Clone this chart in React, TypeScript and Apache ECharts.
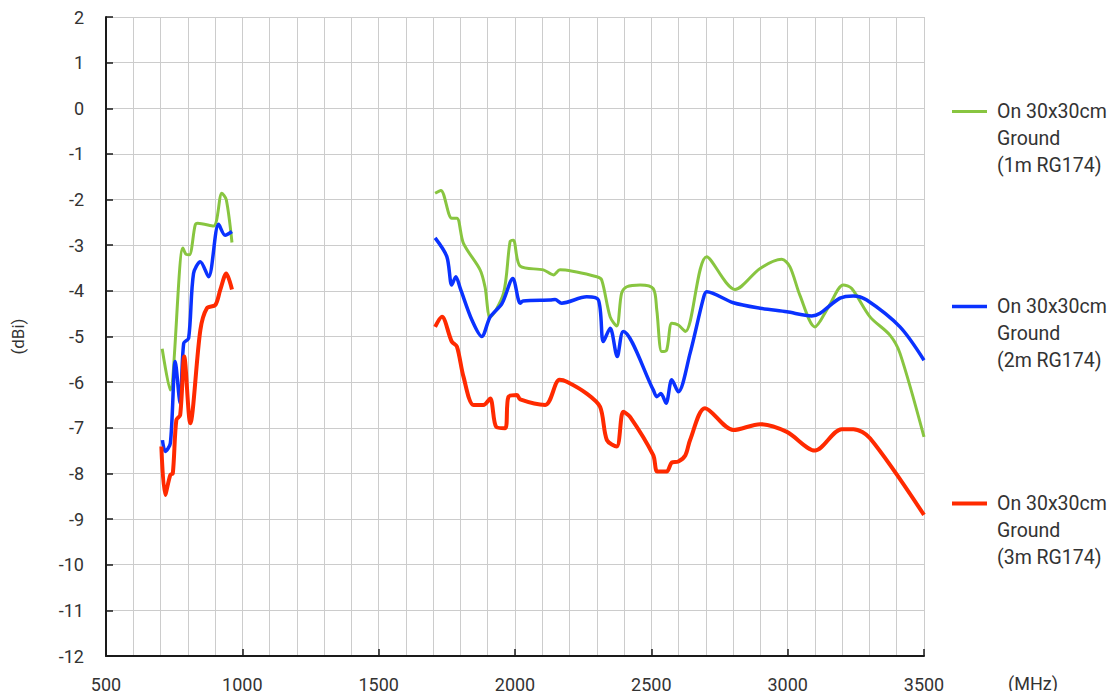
import React, { useEffect, useRef } from "react";
import * as echarts from "echarts";

// ---- data (frequency in MHz, gain in dBi) ----
const green1Freq = [706, 735, 782, 794, 806, 827, 836, 894, 925, 941, 962];
const green1Gain = [-5.27, -6.17, -3.06, -3.2, -3.21, -2.56, -2.52, -2.58, -1.86, -2.0, -2.94];
const green2Freq = [1707, 1728, 1768, 1787, 1811, 1872, 1890, 1909, 1958, 1982, 1994, 2019, 2104, 2141, 2165, 2300, 2318, 2349, 2373, 2391, 2410, 2459, 2507, 2520, 2538, 2556, 2575, 2599, 2625, 2703, 2807, 2899, 2978, 3008, 3045, 3100, 3150, 3204, 3235, 3302, 3375, 3412, 3500];
const green2Gain = [-1.86, -1.8, -2.41, -2.41, -2.96, -3.54, -3.91, -4.57, -4.05, -2.92, -2.89, -3.46, -3.54, -3.65, -3.54, -3.69, -3.76, -4.57, -4.77, -4.05, -3.91, -3.87, -3.95, -4.42, -5.33, -5.3, -4.71, -4.75, -4.89, -3.25, -3.97, -3.51, -3.31, -3.47, -4.1, -4.79, -4.35, -3.87, -3.95, -4.57, -4.97, -5.37, -7.2];

const blue1Freq = [707, 717, 736, 754, 772, 785, 803, 821, 846, 876, 913, 937, 962];
const blue1Gain = [-7.27, -7.52, -7.34, -5.55, -6.47, -5.15, -5.04, -3.62, -3.36, -3.69, -2.54, -2.78, -2.7];
const blue2Freq = [1707, 1750, 1768, 1783, 1799, 1842, 1878, 1909, 1952, 1992, 2019, 2030, 2129, 2147, 2171, 2263, 2306, 2324, 2349, 2375, 2397, 2507, 2520, 2535, 2554, 2575, 2599, 2642, 2691, 2703, 2801, 2899, 2997, 3088, 3119, 3192, 3241, 3290, 3412, 3500];
const blue2Gain = [-2.84, -3.25, -3.87, -3.69, -3.94, -4.64, -5.0, -4.57, -4.28, -3.73, -4.27, -4.22, -4.2, -4.19, -4.27, -4.13, -4.2, -5.11, -4.82, -5.44, -4.89, -6.17, -6.32, -6.25, -6.46, -5.95, -6.21, -5.37, -4.16, -4.02, -4.26, -4.38, -4.46, -4.55, -4.49, -4.16, -4.11, -4.2, -4.79, -5.52];

const red1Freq = [703, 717, 736, 745, 758, 772, 787, 809, 846, 870, 901, 919, 941, 962];
const red1Gain = [-7.41, -8.47, -8.03, -8.0, -6.83, -6.72, -5.44, -6.9, -4.86, -4.38, -4.31, -3.98, -3.62, -3.97];
const red2Freq = [1707, 1732, 1768, 1787, 1811, 1848, 1884, 1909, 1931, 1964, 1976, 2007, 2019, 2111, 2163, 2190, 2263, 2312, 2337, 2373, 2397, 2422, 2507, 2522, 2556, 2575, 2599, 2625, 2642, 2697, 2801, 2899, 2997, 3100, 3198, 3241, 3302, 3500];
const red2Gain = [-4.79, -4.57, -5.11, -5.22, -5.88, -6.5, -6.5, -6.36, -6.98, -7.01, -6.32, -6.28, -6.38, -6.5, -5.95, -5.99, -6.25, -6.54, -7.27, -7.41, -6.65, -6.76, -7.6, -7.96, -7.96, -7.76, -7.74, -7.6, -7.27, -6.57, -7.05, -6.92, -7.09, -7.5, -7.03, -7.03, -7.23, -8.91];

const seriesNames = [
  "On 30x30cm\nGround\n(1m RG174)",
  "On 30x30cm\nGround\n(2m RG174)",
  "On 30x30cm\nGround\n(3m RG174)",
];
const seriesColors = ["#88c540", "#0a32ff", "#ff2a00"];
const seriesWidths = [3, 3.5, 4];
const legendTops = [44, 239, 436];

const xMin = 500;
const xMax = 3500;
const xStep = 500;
const yMin = -12;
const yMax = 2;
const yStep = 1;

const GAP_FREQ = 1300;

function buildData(f1: number[], g1: number[], f2: number[], g2: number[]) {
  const out: (number | null)[][] = [];
  f1.forEach((f, i) => out.push([f, g1[i]]));
  out.push([GAP_FREQ, null]);
  f2.forEach((f, i) => out.push([f, g2[i]]));
  return out;
}

const FONT = "Roboto, 'Noto Sans', sans-serif";

export default function App() {
  const ref = useRef<HTMLDivElement>(null);
  useEffect(() => {
    if (!ref.current) return;
    const chart = echarts.init(ref.current, undefined, { renderer: "svg" });
    const datas = [
      buildData(green1Freq, green1Gain, green2Freq, green2Gain),
      buildData(blue1Freq, blue1Gain, blue2Freq, blue2Gain),
      buildData(red1Freq, red1Gain, red2Freq, red2Gain),
    ];
    chart.setOption({
      animation: false,
      backgroundColor: "#ffffff",
      textStyle: { fontFamily: FONT },
      grid: { left: 106, top: 17, right: 193, bottom: 43 },
      legend: seriesNames.map((name, i) => ({
        data: [{ name, icon: "rect", itemStyle: { color: seriesColors[i] } }],
        left: 952,
        top: legendTops[i],
        padding: 0,
        itemWidth: 35,
        itemHeight: seriesWidths[i],
        selectedMode: false,
        formatter: (n: string) => "\n\n" + n,
        textStyle: {
          fontFamily: FONT,
          fontSize: 19.5,
          color: "#333333",
          lineHeight: 27,
          padding: [0, 0, 0, 5],
        },
      })),
      xAxis: {
        type: "value",
        min: xMin,
        max: xMax,
        interval: xStep,
        name: "(MHz)",
        nameLocation: "end",
        nameGap: 84,
        nameTextStyle: {
          fontFamily: FONT,
          fontSize: 18,
          color: "#333333",
          align: "left",
          verticalAlign: "top",
          padding: [18, 0, 0, 0],
        },
        axisLine: { show: true, onZero: false, lineStyle: { color: "#1a1a1a", width: 2 } },
        axisTick: { show: true, inside: true, length: 7, lineStyle: { color: "#1a1a1a", width: 1.5 } },
        minorTick: { show: false, splitNumber: 5 },
        axisLabel: {
          fontFamily: FONT,
          fontSize: 18,
          color: "#333333",
          margin: 19,
          formatter: (v: number) => String(v),
        },
        splitLine: { show: true, lineStyle: { color: "#cccccc", width: 1 } },
        minorSplitLine: { show: true, lineStyle: { color: "#cccccc", width: 1 } },
      },
      yAxis: {
        type: "value",
        min: yMin,
        max: yMax,
        interval: yStep,
        name: "(dBi)",
        nameLocation: "middle",
        nameGap: 80,
        nameRotate: 90,
        nameTextStyle: { fontFamily: FONT, fontSize: 17, color: "#333333" },
        axisLine: { show: true, onZero: false, lineStyle: { color: "#1a1a1a", width: 2 } },
        axisTick: { show: true, inside: true, length: 7, lineStyle: { color: "#1a1a1a", width: 1.5 } },
        axisLabel: {
          fontFamily: FONT,
          fontSize: 18,
          color: "#333333",
          margin: 22,
          formatter: (v: number) => String(v),
        },
        splitLine: { show: true, lineStyle: { color: "#cccccc", width: 1 } },
      },
      series: seriesNames.map((name, i) => ({
        name,
        type: "line",
        data: datas[i],
        symbol: "none",
        showSymbol: false,
        smooth: 0.3,
        connectNulls: false,
        color: seriesColors[i],
        lineStyle: { color: seriesColors[i], width: seriesWidths[i] },
        z: 3 + i,
      })),
    });
    return () => chart.dispose();
  }, []);
  return <div ref={ref} style={{ width: 1117, height: 699, margin: -8 }} />;
}
